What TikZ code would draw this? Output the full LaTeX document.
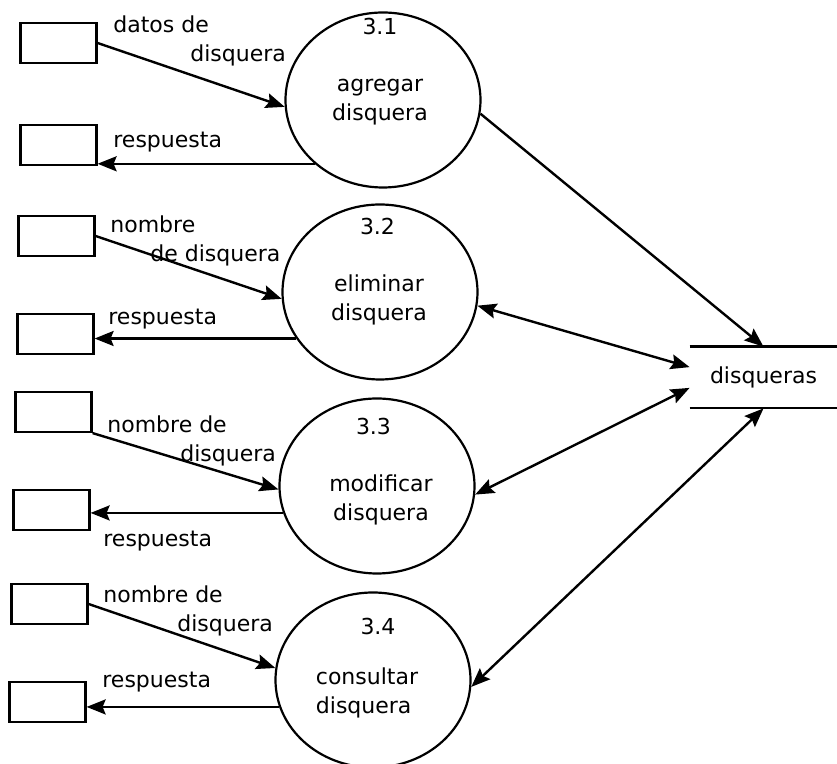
\documentclass[tikz,border=0pt]{standalone}
\usepackage{fontspec}
\setmainfont{DejaVu Sans}
\usepackage{tikz}
\usetikzlibrary{arrows.meta,shapes.geometric}

\begin{document}
\begin{tikzpicture}[
  x=0.5pt,y=-0.5pt,
  font=\fontsize{11pt}{14.5pt}\selectfont,
  every node/.style={inner sep=0pt},
  ext/.style={draw,line width=1.1pt,minimum width=38pt,minimum height=20pt},
  proc/.style={draw,ellipse,line width=1.1pt,minimum width=97.5pt,minimum height=87.5pt},
  store/.style={minimum width=73.5pt,minimum height=30.5pt},
  lbl/.style={anchor=base west,align=left},
  txt/.style={anchor=base,align=center},
  flow/.style={-{Stealth[length=9.5pt,width=7.5pt,inset=1.5pt]},line width=1.2pt},
  dflow/.style={{Stealth[length=9.5pt,width=7.5pt,inset=1.5pt]}-{Stealth[length=9.5pt,width=7.5pt,inset=1.5pt]},line width=1.2pt}
]
  \useasboundingbox (0,0) rectangle (837,764);

  \node[proc] (p1) at (383,100) {};
  \node[proc] (p2) at (380,292) {};
  \node[proc] (p3) at (377,486) {};
  \node[proc] (p4) at (373,680) {};

  \node[txt] (n1) at (380,35) {3.1};
  \node[txt] (n2) at (377.5,235) {3.2};
  \node[txt] (n3) at (373.5,435) {3.3};
  \node[txt] (n4) at (378,635) {3.4};

  \node[txt] (t1) at (380,121) {agregar\\disquera};
  \node[txt] (t2) at (379,321) {eliminar\\disquera};
  \node[txt] (t3) at (381,521) {modificar\\disquera};
  \node[txt,align=left] (t4) at (367,714) {consultar\\disquera};

  \node[store] (ds) at (763.5,377.5) {disqueras};
  \draw[line width=1.1pt] (ds.north west) -- (ds.north east) (ds.south west) -- (ds.south east);

  \node[ext] (r1) at (58.5,43) {};
  \node[ext] (r2) at (58.5,145) {};
  \node[ext] (r3) at (56.5,236) {};
  \node[ext] (r4) at (55.5,334) {};
  \node[ext] (r5) at (53.5,412) {};
  \node[ext] (r6) at (51.5,510) {};
  \node[ext] (r7) at (49.5,604) {};
  \node[ext] (r8) at (47.5,702) {};

  \node[lbl] (l1) at (113,62) {datos de\\\hspace*{38.5pt}disquera};
  \node[lbl] (l2) at (113,148) {respuesta};
  \node[lbl] (l3) at (110,262) {nombre\\\hspace*{20pt}de disquera};
  \node[lbl] (l4) at (108,325) {respuesta};
  \node[lbl] (l5) at (107,462) {nombre de\\\hspace*{36.5pt}disquera};
  \node[lbl] (l6) at (103,547) {respuesta};
  \node[lbl] (l7) at (103,632) {nombre de\\\hspace*{37pt}disquera};
  \node[lbl] (l8) at (102,688) {respuesta};

  \draw[flow] (r1.east) -- (p1.184);
  \draw[flow] (p1.223) -- (p1.223 -| r2.east);
  \draw[flow] (r3.east) -- (p2.184);
  \draw[flow] (p2.209) -- (p2.209 -| r4.east);
  \draw[flow] (r5.south east) -- (p3.182);
  \draw[flow] (p3.196) -- (p3.196 -| r6.east);
  \draw[flow] (r7.east) -- (p4.173);
  \draw[flow] (p4.196) -- (p4.196 -| r8.east);

  \draw[flow] (p1.352) -- (ds.north);
  \draw[dflow] (p2.352) -- (ds.172);
  \draw[dflow] (p3.355) -- (ds.188);
  \draw[dflow] (ds.south) -- (p4.356);
\end{tikzpicture}
\end{document}
